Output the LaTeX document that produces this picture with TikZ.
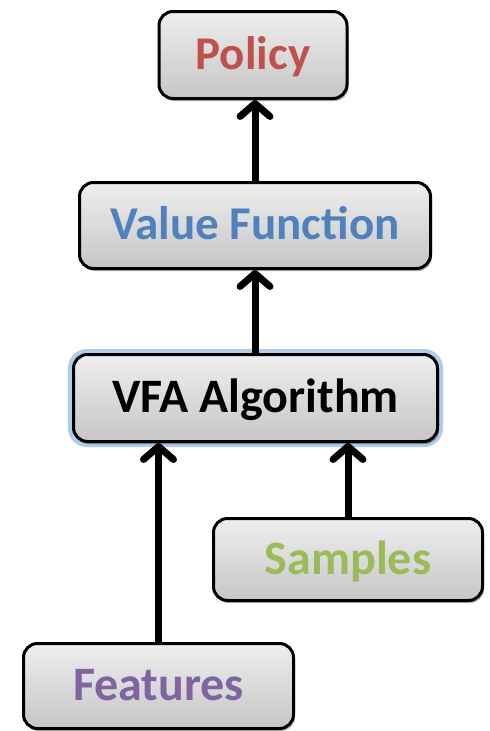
\documentclass[tikz,border=0pt]{standalone}
\usepackage{fontspec}
\setmainfont{Carlito}
\usetikzlibrary{arrows.meta,shadows,backgrounds}
\definecolor{polred}{HTML}{C0504D}
\definecolor{valblue}{HTML}{4F81BD}
\definecolor{smpgreen}{HTML}{9BBB59}
\definecolor{featpurple}{HTML}{8064A2}
\definecolor{glowblue}{HTML}{8DB3E2}
\definecolor{boxtop}{HTML}{EEEEEE}
\definecolor{boxbot}{HTML}{C6C6C6}
\tikzset{
  box/.style={draw=black, line width=3pt, rounded corners=14pt,
    top color=boxtop, bottom color=boxbot,
    drop shadow={shadow xshift=1.5pt, shadow yshift=-2.5pt, opacity=0.3, fill=black},
    inner sep=0pt, align=center},
  % bold label of the given size, capitals centred in the box
  label/.style={font=\bfseries\fontsize{#1}{#1}\selectfont,
    text height={0.61*#1pt}, text depth=0pt},
  flow/.style={line width=7pt, -{Straight Barb[length=13pt, width=30pt, round]}},
}
\begin{document}
\begin{tikzpicture}[x=1pt, y=-1pt]
  \useasboundingbox (0,0) rectangle (490,731);

  % the five stages
  \node[box, minimum width=188pt, minimum height=87pt, text=polred,
        label=47] (policy) at (253,55) {Policy};
  \node[box, minimum width=351pt, minimum height=86pt, text=valblue,
        label=47] (vf) at (255,225.5) {Value Function};
  \node[box, minimum width=364pt, minimum height=87pt, text=black,
        label=48] (vfa) at (255.5,398) {VFA Algorithm};
  \node[box, minimum width=269pt, minimum height=82pt, text=smpgreen,
        label=48] (smp) at (348,559.5) {Samples};
  \node[box, minimum width=270pt, minimum height=85pt, text=featpurple,
        label=48] (feat) at (158.5,686) {Features};

  % soft blue halo around the algorithm box
  \begin{scope}[on background layer]
    \draw[glowblue, opacity=0.7, line width=8pt, rounded corners=15pt]
      (vfa.south west) rectangle (vfa.north east);
  \end{scope}

  % data flow
  \draw[flow] (vf.north) -- (vf.north |- policy.south);
  \draw[flow] (vfa.north -| vf.north) -- (vf.south);
  \draw[flow] (feat.north) -- (feat.north |- vfa.south);
  \draw[flow] (smp.north) -- (smp.north |- vfa.south);
\end{tikzpicture}
\end{document}
